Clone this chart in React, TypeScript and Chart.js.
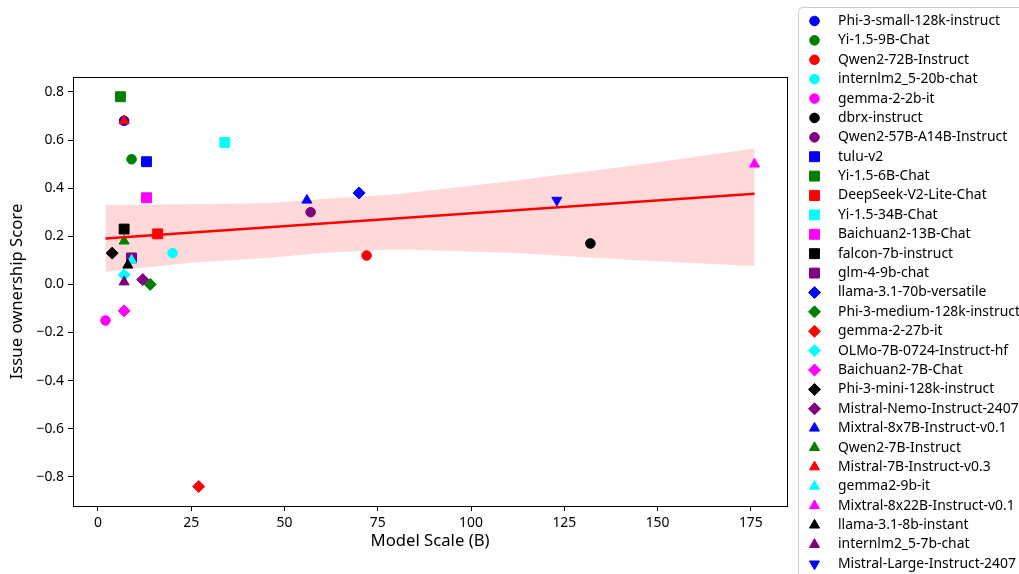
import React, { useEffect, useRef } from 'react';
import { Chart, registerables } from 'chart.js';
Chart.register(...registerables);

const seriesNames = [
  'Phi-3-small-128k-instruct', 'Yi-1.5-9B-Chat', 'Qwen2-72B-Instruct', 'internlm2_5-20b-chat',
  'gemma-2-2b-it', 'dbrx-instruct', 'Qwen2-57B-A14B-Instruct', 'tulu-v2', 'Yi-1.5-6B-Chat',
  'DeepSeek-V2-Lite-Chat', 'Yi-1.5-34B-Chat', 'Baichuan2-13B-Chat', 'falcon-7b-instruct',
  'glm-4-9b-chat', 'llama-3.1-70b-versatile', 'Phi-3-medium-128k-instruct', 'gemma-2-27b-it',
  'OLMo-7B-0724-Instruct-hf', 'Baichuan2-7B-Chat', 'Phi-3-mini-128k-instruct',
  'Mistral-Nemo-Instruct-2407', 'Mixtral-8x7B-Instruct-v0.1', 'Qwen2-7B-Instruct',
  'Mistral-7B-Instruct-v0.3', 'gemma2-9b-it', 'Mixtral-8x22B-Instruct-v0.1',
  'llama-3.1-8b-instant', 'internlm2_5-7b-chat', 'Mistral-Large-Instruct-2407',
];
const seriesColors = [
  'blue', 'green', 'red', 'cyan', 'magenta', 'black', 'purple',
  'blue', 'green', 'red', 'cyan', 'magenta', 'black', 'purple',
  'blue', 'green', 'red', 'cyan', 'magenta', 'black', 'purple',
  'blue', 'green', 'red', 'cyan', 'magenta', 'black', 'purple',
  'blue',
];
const seriesMarkers = [
  'o', 'o', 'o', 'o', 'o', 'o', 'o',
  's', 's', 's', 's', 's', 's', 's',
  'D', 'D', 'D', 'D', 'D', 'D', 'D',
  '^', '^', '^', '^', '^', '^', '^',
  'v',
];
const modelScale = [
  7, 9, 72, 20, 2, 132, 57,
  13, 6, 16, 34, 13, 7, 9,
  70, 14, 27, 7, 7, 3.8, 12,
  56, 7, 7, 9, 176, 8, 7,
  123,
];
const ownershipScore = [
  0.68, 0.52, 0.12, 0.13, -0.15, 0.17, 0.30,
  0.51, 0.78, 0.21, 0.59, 0.36, 0.23, 0.11,
  0.38, 0.0, -0.84, 0.04, -0.11, 0.13, 0.02,
  0.35, 0.18, 0.68, 0.10, 0.50, 0.08, 0.01,
  0.35,
];
const regX = [2, 176];
const regY = [0.191, 0.377];
const bandX = [2, 25, 46, 60, 80, 112, 143, 176];
const bandUpper = [0.33, 0.333, 0.338, 0.355, 0.375, 0.432, 0.493, 0.565];
const bandLower = [0.053, 0.09, 0.111, 0.13, 0.146, 0.131, 0.101, 0.076];
const xTicks = [0, 25, 50, 75, 100, 125, 150, 175];
const yTicks = [-0.8, -0.6, -0.4, -0.2, 0.0, 0.2, 0.4, 0.6, 0.8];

const FONT = "'Noto Sans', 'DejaVu Sans', sans-serif";

const styleOf = (m: string) =>
  m === 'o' ? { pointStyle: 'circle', radius: 4.8, rotation: 0 }
  : m === 's' ? { pointStyle: 'rect', radius: 7.0, rotation: 0 }
  : m === 'D' ? { pointStyle: 'rectRot', radius: 6.0, rotation: 0 }
  : m === '^' ? { pointStyle: 'triangle', radius: 5.8, rotation: 0 }
  : { pointStyle: 'triangle', radius: 5.8, rotation: 180 };

function drawMarker(ctx: CanvasRenderingContext2D, m: string, x: number, y: number, color: string) {
  ctx.save();
  ctx.fillStyle = color;
  ctx.strokeStyle = color;
  ctx.lineWidth = 1;
  ctx.beginPath();
  if (m === 'o') {
    ctx.arc(x, y, 4.8, 0, Math.PI * 2);
  } else if (m === 's') {
    const h = 7.0 * Math.SQRT1_2;
    ctx.rect(x - h, y - h, 2 * h, 2 * h);
  } else if (m === 'D') {
    const r = 6.0;
    ctx.moveTo(x, y - r); ctx.lineTo(x + r, y); ctx.lineTo(x, y + r); ctx.lineTo(x - r, y); ctx.closePath();
  } else {
    const r = 5.8;
    const s = m === '^' ? 1 : -1;
    const w = r * Math.sqrt(3) / 2;
    ctx.moveTo(x, y - s * r); ctx.lineTo(x + w, y + s * r / 2); ctx.lineTo(x - w, y + s * r / 2); ctx.closePath();
  }
  ctx.fill();
  ctx.stroke();
  ctx.restore();
}

const framePlugin = {
  id: 'frameAndLegend',
  afterDraw(chart: any) {
    const { ctx, chartArea } = chart;
    ctx.save();
    ctx.strokeStyle = '#000';
    ctx.lineWidth = 1;
    ctx.strokeRect(Math.round(chartArea.left) + 0.5, Math.round(chartArea.top) + 0.5,
      Math.round(chartArea.right - chartArea.left), Math.round(chartArea.bottom - chartArea.top));
    const lx = 798.5, ly = 7.5, lw = 260, lh = 620, rr = 4;
    ctx.beginPath();
    ctx.moveTo(lx + rr, ly);
    ctx.lineTo(lx + lw - rr, ly);
    ctx.quadraticCurveTo(lx + lw, ly, lx + lw, ly + rr);
    ctx.lineTo(lx + lw, ly + lh - rr);
    ctx.quadraticCurveTo(lx + lw, ly + lh, lx + lw - rr, ly + lh);
    ctx.lineTo(lx + rr, ly + lh);
    ctx.quadraticCurveTo(lx, ly + lh, lx, ly + lh - rr);
    ctx.lineTo(lx, ly + rr);
    ctx.quadraticCurveTo(lx, ly, lx + rr, ly);
    ctx.closePath();
    ctx.fillStyle = 'rgba(255,255,255,0.8)';
    ctx.fill();
    ctx.strokeStyle = '#cccccc';
    ctx.stroke();
    ctx.font = `13.9px ${FONT}`;
    ctx.textBaseline = 'middle';
    ctx.textAlign = 'left';
    for (let i = 0; i < seriesNames.length; i++) {
      const cy = 21 + i * 19.39;
      drawMarker(ctx, seriesMarkers[i], 814.5, cy, seriesColors[i]);
      ctx.fillStyle = '#000';
      ctx.fillText(seriesNames[i], 838, cy);
    }
    ctx.restore();
  },
};

export default function App() {
  const ref = useRef<HTMLCanvasElement | null>(null);
  useEffect(() => {
    document.body.style.margin = '0';
    if (!ref.current) return;
    const scatterSets = seriesNames.map((name, i) => {
      const st = styleOf(seriesMarkers[i]);
      return {
        type: 'scatter' as const,
        label: name,
        data: [{ x: modelScale[i], y: ownershipScore[i] }],
        pointStyle: st.pointStyle,
        pointRadius: st.radius,
        pointRotation: st.rotation,
        pointBackgroundColor: seriesColors[i],
        pointBorderColor: seriesColors[i],
        pointBorderWidth: 1,
        order: 100 - i,
      };
    });
    const chart = new Chart(ref.current, {
      type: 'scatter',
      data: {
        datasets: [
          ...scatterSets,
          {
            type: 'line',
            label: 'band-upper',
            data: bandX.map((x, i) => ({ x, y: bandUpper[i] })),
            borderWidth: 0,
            pointRadius: 0,
            showLine: true,
            fill: '+1',
            backgroundColor: 'rgba(255,0,0,0.15)',
            borderColor: 'rgba(0,0,0,0)',
            order: 300,
          } as any,
          {
            type: 'line',
            label: 'band-lower',
            data: bandX.map((x, i) => ({ x, y: bandLower[i] })),
            borderWidth: 0,
            pointRadius: 0,
            showLine: true,
            fill: false,
            borderColor: 'rgba(0,0,0,0)',
            order: 301,
          } as any,
          {
            type: 'line',
            label: 'regression',
            data: regX.map((x, i) => ({ x, y: regY[i] })),
            borderColor: 'red',
            borderWidth: 2.6,
            pointRadius: 0,
            showLine: true,
            fill: false,
            order: 0,
          } as any,
        ],
      },
      options: {
        animation: false,
        responsive: false,
        devicePixelRatio: 1,
        layout: { padding: { top: 77, right: 232, left: 0, bottom: 0 } },
        plugins: { legend: { display: false }, tooltip: { enabled: false } },
        scales: {
          x: {
            type: 'linear',
            position: 'bottom',
            min: -6.7,
            max: 184.7,
            afterBuildTicks: (s: any) => { s.ticks = xTicks.map((v) => ({ value: v })); },
            afterFit: (s: any) => { s.height = 68; },
            ticks: {
              callback: (v: any) => String(v),
              font: { family: FONT, size: 13.9 },
              color: '#000',
              padding: 4,
              maxRotation: 0,
              autoSkip: false,
            },
            grid: { drawOnChartArea: false, drawTicks: true, tickLength: 5, color: '#000', lineWidth: 1 },
            border: { display: false },
            title: {
              display: true,
              text: 'Model Scale (B)',
              font: { family: FONT, size: 16.7 },
              color: '#000',
              padding: { top: 0, bottom: 23 },
            },
          },
          y: {
            type: 'linear',
            min: -0.921,
            max: 0.862,
            afterBuildTicks: (s: any) => { s.ticks = yTicks.map((v) => ({ value: v })); },
            afterFit: (s: any) => { s.width = 73; },
            ticks: {
              callback: (v: any) => {
                const t = Number(v).toFixed(1);
                return t === '-0.0' ? '0.0' : t.replace('-', '\u2212');
              },
              font: { family: FONT, size: 13.9 },
              color: '#000',
              padding: 4,
              autoSkip: false,
            },
            grid: { drawOnChartArea: false, drawTicks: true, tickLength: 5, color: '#000', lineWidth: 1 },
            border: { display: false },
            title: {
              display: true,
              text: 'Issue ownership Score',
              font: { family: FONT, size: 16.7 },
              color: '#000',
              padding: { top: 7, bottom: 0 },
            },
          },
        },
      } as any,
      plugins: [framePlugin],
    });
    return () => chart.destroy();
  }, []);
  return (
    <div style={{ position: 'absolute', left: 0, top: 0, width: 1019, height: 574, background: '#fff' }}>
      <canvas ref={ref} width={1019} height={574} style={{ display: 'block' }} />
    </div>
  );
}
